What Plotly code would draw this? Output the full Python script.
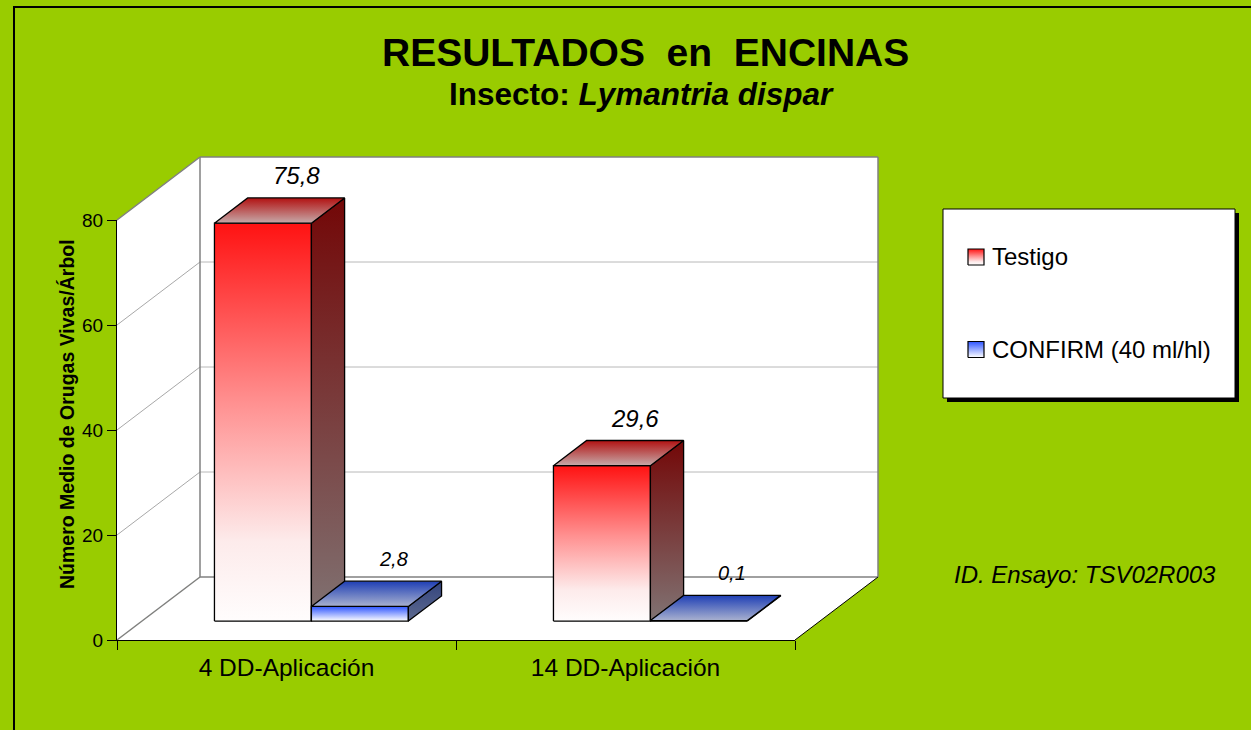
import plotly.graph_objects as go

# ---------------- data ----------------
categories = ["4 DD-Aplicación", "14 DD-Aplicación"]
series_names = ["Testigo", "CONFIRM (40 ml/hl)"]
testigo = [75.8, 29.6]
confirm = [2.8, 0.1]
testigo_labels = ["75,8", "29,6"]
confirm_labels = ["2,8", "0,1"]
y_ticks = [0, 20, 40, 60, 80]
title_text = "RESULTADOS  en  ENCINAS"
subtitle_text = "<b>Insecto: <i>Lymantria dispar</i></b>"
y_title = "Número Medio de Orugas Vivas/Árbol"
id_text = "ID. Ensayo: TSV02R003"

# ---------------- layout geometry (pixels) ----------------
W, H = 1251, 730
PX0, PXW = 117, 339      # front category-axis origin and px per category
PY0, PPU = 640, 5.25     # front value-axis origin and px per unit
DX = 83 / PXW            # full depth offset in category units
DY = 63 / PPU            # full depth offset in value units
Z0, Z1 = 0.3, 0.7        # bar depth span
BW = 0.286               # bar width (category units)

FONT = "Liberation Sans, Arial, sans-serif"
GREEN = "#99CC00"

ymax = max(y_ticks)
ncat = len(categories)


def P(x, y, z):
    return (x + z * DX, y + z * DY)


def pxx(px):
    return px / W


def pxy(py):
    return 1 - py / H


def d2x(px):
    return (px - PX0) / PXW


def d2y(py):
    return (PY0 - py) / PPU


traces = []


def face(pts, cs=None, fill=None, line_color="black", lw=1.3):
    xs = [p[0] for p in pts] + [pts[0][0]]
    ys = [p[1] for p in pts] + [pts[0][1]]
    kw = dict(x=xs, y=ys, mode="lines", fill="toself", hoverinfo="skip",
              showlegend=False, xaxis="x", yaxis="y")
    if line_color is None:
        kw["line"] = dict(width=0, color="rgba(0,0,0,0)")
    else:
        kw["line"] = dict(color=line_color, width=lw)
    if cs is not None:
        kw["fillgradient"] = dict(type="vertical", colorscale=cs)
        kw["fillcolor"] = cs[-1][1]
    else:
        kw["fillcolor"] = fill
    traces.append(go.Scatter(**kw))


def seg(a, b, color, lw):
    traces.append(go.Scatter(x=[a[0], b[0]], y=[a[1], b[1]], mode="lines",
                             line=dict(color=color, width=lw), hoverinfo="skip",
                             showlegend=False, xaxis="x", yaxis="y"))


# ---------------- walls ----------------
face([P(0, 0, 0), P(0, ymax, 0), P(0, ymax, 1), P(0, 0, 1)], fill="white", line_color=None)
face([P(0, 0, 1), P(ncat, 0, 1), P(ncat, ymax, 1), P(0, ymax, 1)], fill="white", line_color=None)
face([P(0, 0, 0), P(ncat, 0, 0), P(ncat, 0, 1), P(0, 0, 1)], fill="white", line_color=None)

for v in y_ticks[1:-1]:
    seg(P(0, v, 1), P(ncat, v, 1), "#B8B8B8", 1)
    seg(P(0, v, 0), P(0, v, 1), "#A8A8A8", 1)

WALL = "#808080"
seg(P(0, ymax, 0), P(0, ymax, 1), WALL, 1.5)
seg(P(0, 0, 0), P(0, 0, 1), WALL, 1.5)
seg(P(0, ymax, 1), P(ncat, ymax, 1), WALL, 1.5)
seg(P(0, 0, 1), P(0, ymax, 1), WALL, 1.5)
seg(P(ncat, 0, 1), P(ncat, ymax, 1), WALL, 1.5)
seg(P(0, 0, 1), P(ncat, 0, 1), WALL, 1.5)
seg(P(ncat, 0, 0), P(ncat, 0, 1), "black", 1)

# ---------------- bars ----------------
RED = dict(front=[[0, "#FFFDFD"], [0.2, "#FDEBEB"], [0.55, "#FF9090"], [1, "#FF1212"]],
           top=[[0, "#C6AAAA"], [1, "#B21212"]],
           side=[[0, "#807373"], [1, "#730707"]])
BLUE = dict(front=[[0, "#FFFFFF"], [1, "#2E55FF"]],
            top=[[0, "#A9B1CF"], [1, "#1F3FB5"]],
            side=[[0, "#5E6A8E"], [1, "#33447E"]])


def bar(x0, x1, v, sty):
    face([P(x0, 0, Z0), P(x1, 0, Z0), P(x1, v, Z0), P(x0, v, Z0)], cs=sty["front"])
    face([P(x1, 0, Z0), P(x1, v, Z0), P(x1, v, Z1), P(x1, 0, Z1)], cs=sty["side"])
    face([P(x0, v, Z0), P(x1, v, Z0), P(x1, v, Z1), P(x0, v, Z1)], cs=sty["top"])


annotations = []
for i in range(ncat):
    c = i + 0.5
    for vals, labs, sty, x0, x1, fs in [
        (testigo, testigo_labels, RED, c - BW, c, 24),
        (confirm, confirm_labels, BLUE, c, c + BW, 20),
    ]:
        v = vals[i]
        bar(x0, x1, v, sty)
        lx, ly = P((x0 + x1) / 2, v, Z1)
        annotations.append(dict(x=lx, y=ly, xref="x", yref="y", text="<i>" + labs[i] + "</i>",
                                showarrow=False, yshift=22, xanchor="center", yanchor="middle",
                                font=dict(size=fs, color="black", family=FONT)))

# dummy trace for visible category / value axes
traces.append(go.Scatter(x=categories, y=[0, 0], mode="markers", marker=dict(opacity=0),
                         hoverinfo="skip", showlegend=False, xaxis="x2", yaxis="y2"))

# ---------------- legend (drawn) ----------------
for k, (cs, py) in enumerate([(RED["front"], 257), (BLUE["front"], 349.5)]):
    face([(d2x(968), d2y(py + 8)), (d2x(984), d2y(py + 8)), (d2x(984), d2y(py - 8)),
          (d2x(968), d2y(py - 8))], cs=cs, lw=1.2)
    annotations.append(dict(x=pxx(990), y=pxy(py), xref="paper", yref="paper",
                            text=series_names[k], showarrow=False, xanchor="left", yanchor="middle",
                            font=dict(size=24, color="black", family=FONT)))

shapes = [
    dict(type="rect", xref="paper", yref="paper", x0=pxx(947), x1=pxx(1239), y0=pxy(213), y1=pxy(402),
         fillcolor="black", line=dict(width=0), layer="below"),
    dict(type="rect", xref="paper", yref="paper", x0=pxx(943), x1=pxx(1235), y0=pxy(209), y1=pxy(398),
         fillcolor="white", line=dict(color="black", width=1), layer="below"),
    dict(type="rect", xref="paper", yref="paper", x0=pxx(14), x1=pxx(1270), y0=pxy(7), y1=pxy(750),
         fillcolor="rgba(0,0,0,0)", line=dict(color="black", width=2), layer="below"),
]

# ---------------- texts ----------------
annotations += [
    dict(x=pxx(645), y=pxy(52.5), xref="paper", yref="paper", text="<b>" + title_text + "</b>",
         showarrow=False, xanchor="center", yanchor="middle",
         font=dict(size=39, color="black", family=FONT)),
    dict(x=pxx(641.5), y=pxy(94), xref="paper", yref="paper", text=subtitle_text,
         showarrow=False, xanchor="center", yanchor="middle",
         font=dict(size=31.5, color="black", family=FONT)),
    dict(x=pxx(66.5), y=pxy(414.5), xref="paper", yref="paper", text="<b>" + y_title + "</b>",
         textangle=-90, showarrow=False, xanchor="center", yanchor="middle",
         font=dict(size=19.5, color="black", family=FONT)),
    dict(x=pxx(1084.5), y=pxy(574.5), xref="paper", yref="paper", text="<i>" + id_text + "</i>",
         showarrow=False, xanchor="center", yanchor="middle",
         font=dict(size=24, color="black", family=FONT)),
]

fig = go.Figure(traces)
fig.update_layout(
    width=W, height=H, autosize=False,
    margin=dict(l=0, r=0, t=0, b=0, pad=0, autoexpand=False),
    paper_bgcolor=GREEN, plot_bgcolor="rgba(0,0,0,0)",
    showlegend=False,
    xaxis=dict(domain=[0, 1], range=[d2x(0), d2x(W)], visible=False, fixedrange=True,
               automargin=False),
    yaxis=dict(domain=[0, 1], range=[d2y(H), d2y(0)], visible=False, fixedrange=True,
               automargin=False),
    xaxis2=dict(domain=[pxx(PX0), pxx(PX0 + ncat * PXW)], anchor="y2", type="category",
                categoryorder="array", categoryarray=categories, range=[-0.5, ncat - 0.5],
                tickson="boundaries", ticks="outside", ticklen=9, tickcolor="black",
                ticklabelstandoff=6,
                showline=True, linecolor="black", linewidth=1, showgrid=False, zeroline=False,
                tickfont=dict(size=24.5, color="black", family=FONT), fixedrange=True,
                automargin=False),
    yaxis2=dict(domain=[pxy(PY0), pxy(PY0 - ymax * PPU)], anchor="x2", range=[0, ymax],
                tickvals=y_ticks, ticks="outside", ticklen=9, tickcolor="black",
                showline=True, linecolor="black", linewidth=1, showgrid=False, zeroline=False,
                tickfont=dict(size=19, color="black", family=FONT), fixedrange=True,
                automargin=False),
    annotations=annotations,
    shapes=shapes,
)

fig.write_html("out.html", config={"displayModeBar": False},
               post_script="document.body.style.margin='0';")
